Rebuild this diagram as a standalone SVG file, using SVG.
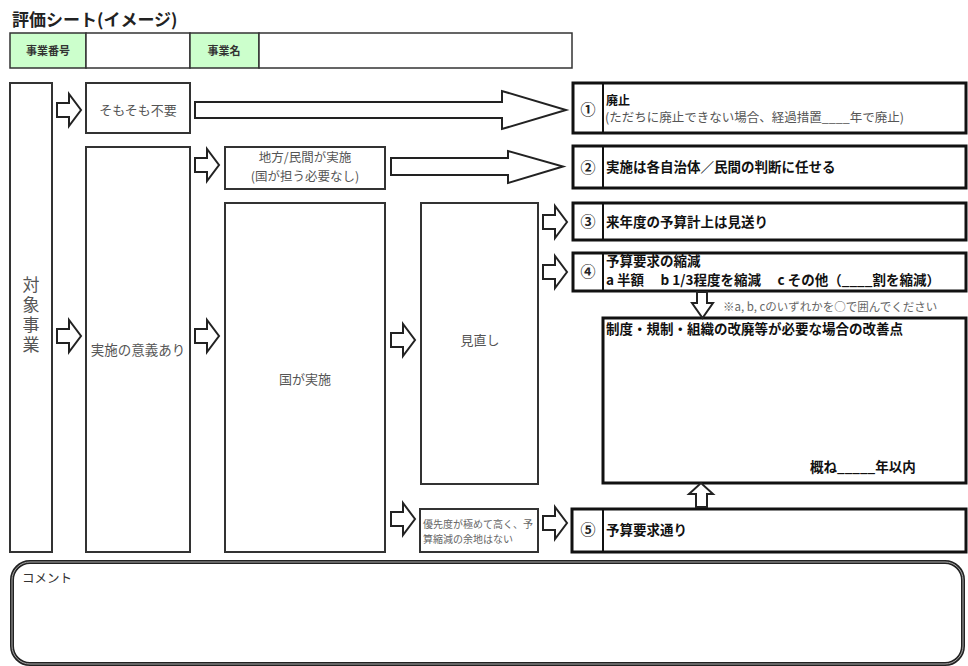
<svg xmlns="http://www.w3.org/2000/svg" xmlns:xlink="http://www.w3.org/1999/xlink" width="968" height="666" viewBox="0 0 968 666">
<defs>
<style>
.jp{font-family:"Noto Sans CJK JP","Liberation Sans",sans-serif;}
.box{fill:#fff;stroke:#333;stroke-width:2;}
.rbox{fill:#fff;stroke:#111;stroke-width:3;}
.div{stroke:#111;stroke-width:2;}
.hdr{fill:#ccffcc;stroke:#333;stroke-width:1.5;}
.hcell{fill:#fff;stroke:#333;stroke-width:1.5;}
.arr{fill:#fff;stroke:#222;stroke-width:2;stroke-linejoin:miter;}
.lbl{font-size:13px;fill:#555;}
.bold{font-size:13.5px;font-weight:bold;fill:#111;}
.num{font-size:15px;font-weight:bold;fill:#222;text-anchor:middle;}
.mid{text-anchor:middle;}
.vert{writing-mode:vertical-rl;}
</style>
<path id="sa" d="M0,-7 H12 V-16 L24,0 L12,16 V7 H0 Z"/>
</defs>

<text class="jp" x="12" y="26" font-size="17" font-weight="bold" fill="#222">評価シート(イメージ)</text>

<g id="header">
<rect class="hdr" x="10" y="33" width="76" height="35"/>
<rect class="hcell" x="86" y="33" width="104" height="35"/>
<rect class="hdr" x="190" y="33" width="69" height="35"/>
<rect class="hcell" x="259" y="33" width="313" height="35"/>
<text class="jp mid" x="48" y="55" font-size="11" font-weight="bold" fill="#333">事業番号</text>
<text class="jp mid" x="224" y="55" font-size="11" font-weight="bold" fill="#333">事業名</text>
</g>

<g id="taisho">
<rect class="box" x="10" y="83" width="42" height="469"/>
<text class="jp vert" x="31" y="276" font-size="17" letter-spacing="3" fill="#555">対象事業</text>
</g>

<g id="somosomo">
<rect class="box" x="86" y="83" width="104" height="50"/>
<text class="jp lbl mid" x="138" y="115">そもそも不要</text>
</g>

<g id="igi">
<rect class="box" x="86" y="147" width="104" height="405"/>
<text class="jp mid" x="138" y="355" font-size="13.5" fill="#555">実施の意義あり</text>
</g>

<g id="chiho">
<rect class="box" x="225" y="147" width="160" height="42"/>
<text class="jp mid" font-size="12.5" fill="#555"><tspan x="305" y="162">地方/民間が実施</tspan><tspan x="305" y="181">(国が担う必要なし)</tspan></text>
</g>

<g id="kuni">
<rect class="box" x="225" y="203" width="160" height="349"/>
<text class="jp lbl mid" x="305" y="384">国が実施</text>
</g>

<g id="minaoshi">
<rect class="box" x="421" y="203" width="117" height="281"/>
<text class="jp lbl mid" x="480" y="345">見直し</text>
</g>

<g id="yusen">
<rect class="box" x="420" y="509" width="118" height="43"/>
<text class="jp" font-size="10" fill="#666"><tspan x="423" y="528">優先度が極めて高く、予</tspan><tspan x="423" y="543">算縮減の余地はない</tspan></text>
</g>

<g id="opt1">
<rect class="rbox" x="573" y="83" width="393" height="50"/>
<line class="div" x1="603" y1="83" x2="603" y2="133"/>
<text class="jp num" x="588" y="115">①</text>
<text class="jp" font-size="12.5" fill="#555"><tspan x="606" y="105" font-size="12" font-weight="bold" fill="#111">廃止</tspan><tspan x="605" y="122">(ただちに廃止できない場合、経過措置____年で廃止)</tspan></text>
</g>

<g id="opt2">
<rect class="rbox" x="573" y="146" width="393" height="42"/>
<line class="div" x1="603" y1="146" x2="603" y2="188"/>
<text class="jp num" x="588" y="173">②</text>
<text class="jp bold" x="606" y="172">実施は各自治体／民間の判断に任せる</text>
</g>

<g id="opt3">
<rect class="rbox" x="573" y="203" width="393" height="37"/>
<line class="div" x1="603" y1="203" x2="603" y2="240"/>
<text class="jp num" x="588" y="227">③</text>
<text class="jp bold" x="606" y="227">来年度の予算計上は見送り</text>
</g>

<g id="opt4">
<rect class="rbox" x="573" y="253" width="393" height="38"/>
<line class="div" x1="603" y1="253" x2="603" y2="291"/>
<text class="jp num" x="588" y="277">④</text>
<text class="jp bold" font-size="11.5" xml:space="preserve"><tspan x="606" y="266">予算要求の縮減</tspan><tspan x="606" y="285">a 半額　 b 1/3程度を縮減　 c その他（____割を縮減）</tspan></text>
</g>

<text class="jp" x="723" y="311" font-size="11.5" fill="#666">※a, b, cのいずれかを○で囲んでください</text>

<g id="kaizen">
<rect class="rbox" x="603" y="318" width="363" height="165"/>
<text class="jp bold" x="606" y="334" font-size="13">制度・規制・組織の改廃等が必要な場合の改善点</text>
<text class="jp bold" x="810" y="472" font-size="13">概ね_____年以内</text>
</g>

<g id="opt5">
<rect class="rbox" x="572" y="509" width="394" height="43"/>
<line class="div" x1="603" y1="509" x2="603" y2="552"/>
<text class="jp num" x="588" y="535">⑤</text>
<text class="jp bold" x="606" y="535">予算要求通り</text>
</g>

<g id="comment">
<rect x="12" y="562" width="951" height="102" rx="18" fill="#fff" stroke="#222" stroke-width="4"/>
<rect x="12" y="562" width="951" height="102" rx="18" fill="none" stroke="#aaa" stroke-width="1"/>
<text class="jp" x="22" y="583" font-size="12.5" fill="#333">コメント</text>
</g>

<g id="connectors">
<use xlink:href="#sa" class="arr" transform="translate(57,110)"/>
<use xlink:href="#sa" class="arr" transform="translate(57,336)"/>
<use xlink:href="#sa" class="arr" transform="translate(195,165)"/>
<use xlink:href="#sa" class="arr" transform="translate(195,336)"/>
<use xlink:href="#sa" class="arr" transform="translate(391,340)"/>
<use xlink:href="#sa" class="arr" transform="translate(543,222)"/>
<use xlink:href="#sa" class="arr" transform="translate(543,272)"/>
<use xlink:href="#sa" class="arr" transform="translate(391,519)"/>
<use xlink:href="#sa" class="arr" transform="translate(543,523)"/>
<path class="arr" d="M195,102 H502 V91 L566,110 L502,129 V118 H195 Z"/>
<path class="arr" d="M391,158 H508 V151 L563,166.5 L508,183 V175 H391 Z"/>
<path class="arr" d="M697,292 V303 H692 L702.5,318 L713,303 H707 V292 Z"/>
<path class="arr" d="M696,507 V494 H689 L701,483 L713,494 H707 V507 Z"/>
</g>
</svg>
